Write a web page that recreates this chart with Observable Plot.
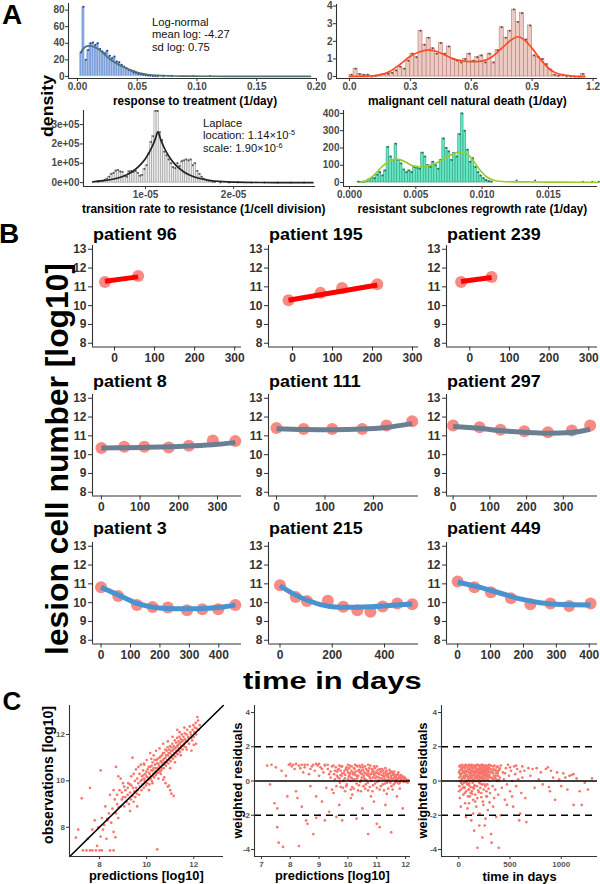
<!DOCTYPE html>
<html><head><meta charset="utf-8">
<script src="https://cdn.jsdelivr.net/npm/d3@7"></script>
<script src="https://cdn.jsdelivr.net/npm/@observablehq/plot@0.6"></script>
<style>
body{margin:0;background:#fff;}
#fig{position:relative;width:600px;height:884px;overflow:hidden;background:#fff;font-family:"Liberation Sans",Arial,Helvetica,sans-serif;}
.t{position:absolute;white-space:nowrap;line-height:1;}
.t sup{font-size:0.65em;vertical-align:0.55em;line-height:0;}
</style></head><body><div id="fig"></div>
<script>
// ---------------- DATA ----------------
// A1 response to treatment (histogram density, bin width 0.002)
const a1BinWidth = 0.002;
const a1BinStart = [0.002,0.004,0.006,0.008,0.010,0.012,0.014,0.016,0.018,0.020,0.022,0.024,0.026,0.028,0.030,0.032,0.034,0.036,0.038,0.040,0.042,0.044,0.046,0.048,0.050,0.052,0.054,0.056,0.058,0.060,0.062,0.064,0.066];
const a1Density  = [29,84,20,32,40,41,38,40,33,30,28,31,25,22,24,18,17,14,12,10,8,7,5,4,3,2.5,2,1.5,1,0.8,0.5,0.4,0.3];
const a1TailX = [0.072,0.079,0.097,0.111];
const a1TailY = [0.3,0.8,0.6,0.6];
const a1CurveX = [0.003,0.005,0.008,0.011,0.014,0.019,0.023,0.027,0.031,0.036,0.040,0.044,0.048,0.052,0.056,0.060,0.067,0.074,0.082,0.090,0.110,0.140,0.195];
const a1CurveY = [29.5,33.5,36.5,36.8,35.5,31.5,26,21,17,13,10.5,8,6,4,3,2,1.2,0.8,0.5,0.4,0.2,0.1,0.05];
const a1XTicks = [0,0.05,0.10,0.15,0.20], a1XLabels = ["0.00","0.05","0.10","0.15","0.20"];
const a1YTicks = [0,20,40,60,80], a1YLabels = ["0","20","40","60","80"];

// A2 malignant cell natural death (bin width 0.02)
const a2BinWidth = 0.02;
const a2BinStart = [0.00,0.02,0.04,0.06,0.08,0.10,0.12,0.14,0.16,0.18,0.20,0.22,0.24,0.26,0.28,0.30,0.32,0.34,0.36,0.38,0.40,0.42,0.44,0.46,0.48,0.50,0.52,0.54,0.56,0.58,0.60,0.62,0.64,0.66,0.68,0.70,0.72,0.74,0.76,0.78,0.80,0.82,0.84,0.86,0.88,0.90,0.92,0.94,0.96,0.98,1.00,1.02,1.04,1.06,1.08,1.10,1.12,1.14];
const a2Density  = [0.1,0.45,0.15,0.1,0.1,0.0,0.05,0.1,0.15,0.15,0.2,0.35,0.55,0.45,0.9,1.3,1.1,2.6,1.8,2.2,1.6,1.3,1.9,1.3,1.7,1.0,0.9,0.8,1.0,1.3,0.9,1.1,1.2,0.8,1.3,0.8,1.5,2.8,2.2,2.6,3.8,3.1,3.6,2.1,2.9,1.2,1.1,1.0,0.7,0.4,0.1,0.05,0.1,0.0,0.0,0.0,0.0,0.15];
const a2CurveX = [0.0,0.05,0.1,0.15,0.2,0.25,0.3,0.35,0.39,0.43,0.47,0.51,0.55,0.6,0.65,0.7,0.75,0.8,0.83,0.86,0.9,0.95,1.0,1.05,1.1,1.16];
const a2CurveY = [0.0,0.01,0.03,0.1,0.3,0.7,1.15,1.42,1.52,1.42,1.22,1.02,0.9,0.84,0.88,1.1,1.6,2.1,2.26,2.1,1.6,0.85,0.3,0.1,0.03,0.0];
const a2XTicks = [0,0.3,0.6,0.9,1.2], a2XLabels = ["0.0","0.3","0.6","0.9","1.2"];
const a2YTicks = [0,1,2,3,4], a2YLabels = ["0","1","2","3","4"];

// A3 transition rate to resistance (bin width 0.025e-5)
const a3BinWidth = 0.025e-5;
const a3BinStart = [0.450e-5,0.475e-5,0.500e-5,0.525e-5,0.550e-5,0.575e-5,0.600e-5,0.625e-5,0.650e-5,0.675e-5,0.700e-5,0.725e-5,0.750e-5,0.775e-5,0.800e-5,0.825e-5,0.850e-5,0.875e-5,0.900e-5,0.925e-5,0.950e-5,0.975e-5,1.000e-5,1.025e-5,1.050e-5,1.075e-5,1.100e-5,1.125e-5,1.150e-5,1.175e-5,1.200e-5,1.225e-5,1.250e-5,1.275e-5,1.300e-5,1.325e-5,1.350e-5,1.375e-5,1.400e-5,1.425e-5,1.450e-5,1.475e-5,1.500e-5,1.525e-5,1.550e-5,1.575e-5,1.600e-5,1.625e-5,1.650e-5,1.675e-5,1.700e-5,1.725e-5,1.750e-5,1.775e-5];
const a3Density  = [0.05e5,0.08e5,0.1e5,0.15e5,0.2e5,0.3e5,0.45e5,0.5e5,0.62e5,0.65e5,0.58e5,0.55e5,0.35e5,0.3e5,0.58e5,0.6e5,0.55e5,0.6e5,0.5e5,0.35e5,0.4e5,0.7e5,0.9e5,1.5e5,2.1e5,2.4e5,3.7e5,3.7e5,2.6e5,2.2e5,1.6e5,1.4e5,1.2e5,1.0e5,0.8e5,0.75e5,1.0e5,0.85e5,1.1e5,1.15e5,1.2e5,1.15e5,1.2e5,0.9e5,1.0e5,0.6e5,0.45e5,0.3e5,0.2e5,0.15e5,0.1e5,0.08e5,0.05e5,0.03e5];
const a3TailX = [1.85e-5,1.95e-5,2.05e-5,2.2e-5,2.35e-5,2.5e-5,2.65e-5,2.8e-5];
const a3TailY = [0.01e5,0.01e5,0.01e5,0.01e5,0.01e5,0.01e5,0.01e5,0.01e5];
const a3CurveX = [0.40e-5,0.44e-5,0.54e-5,0.64e-5,0.74e-5,0.84e-5,0.94e-5,1.00e-5,1.04e-5,1.08e-5,1.11e-5,1.14e-5,1.17e-5,1.20e-5,1.24e-5,1.30e-5,1.34e-5,1.44e-5,1.54e-5,1.64e-5,1.74e-5,1.84e-5,2.04e-5,2.30e-5,2.60e-5,2.90e-5];
const a3CurveY = [0.04e5,0.066e5,0.11e5,0.19e5,0.32e5,0.54e5,0.92e5,1.25e5,1.55e5,1.92e5,2.25e5,2.63e5,2.25e5,1.92e5,1.55e5,1.13e5,0.92e5,0.54e5,0.32e5,0.19e5,0.11e5,0.066e5,0.023e5,0.006e5,0.001e5,0];
const a3XTicks = [1e-5,2e-5], a3XLabels = ["1e-05","2e-05"];
const a3YTicks = [0,1e5,2e5,3e5], a3YLabels = ["0e+00","1e+05","2e+05","3e+05"];

// A4 resistant subclones regrowth rate (bin width 0.0002)
const a4BinWidth = 0.0002;
const a4BinStart = [0.0006,0.0008,0.0010,0.0012,0.0014,0.0016,0.0018,0.0020,0.0022,0.0024,0.0026,0.0028,0.0030,0.0032,0.0034,0.0036,0.0038,0.0040,0.0042,0.0044,0.0046,0.0048,0.0050,0.0052,0.0054,0.0056,0.0058,0.0060,0.0062,0.0064,0.0066,0.0068,0.0070,0.0072,0.0074,0.0076,0.0078,0.0080,0.0082,0.0084,0.0086,0.0088,0.0090,0.0092,0.0094,0.0096,0.0098,0.0100,0.0102,0.0104,0.0106];
const a4Density  = [5,3,5,10,18,28,25,45,60,40,70,205,150,130,225,130,110,75,60,70,60,90,85,80,173,150,100,90,120,100,80,130,255,200,180,130,170,150,280,400,300,190,120,140,90,60,40,25,15,8,5];
const a4TailX = [0.0126,0.0140,0.0176,0.0183,0.0188];
const a4TailY = [12,12,4,4,4];
const a4CurveX = [0.0008,0.0012,0.0016,0.002,0.0025,0.003,0.0036,0.0042,0.0048,0.0054,0.006,0.0066,0.0072,0.0078,0.0083,0.0088,0.0093,0.0098,0.0103,0.0108,0.0115,0.0125,0.014,0.016,0.0187];
const a4CurveY = [2,8,25,55,95,122,135,120,96,90,98,115,140,165,178,170,130,75,35,15,6,4,3,2,1];
const a4XTicks = [0,0.005,0.010,0.015], a4XLabels = ["0.000","0.005","0.010","0.015"];
const a4YTicks = [0,100,200,300,400], a4YLabels = ["0","100","200","300","400"];

// B patients: days and log10 cell numbers, observed and model fit
const bYTicks = [8,9,10,11,12,13];
const p96Days = [-24,59], p96Obs = [11.26,11.58], p96FitDays = [-24,59], p96Fit = [11.3,11.53];
const p195Days = [-10,70,124,212], p195Obs = [10.29,10.68,10.94,11.14], p195FitDays = [-10,212], p195Fit = [10.29,11.1];
const p239Days = [-22,55], p239Obs = [11.26,11.53], p239FitDays = [-22,55], p239Fit = [11.28,11.5];
const p8Days = [0,59,111,174,226,288,346], p8Obs = [10.35,10.42,10.42,10.38,10.47,10.75,10.72];
const p8FitDays = [0,60,120,180,240,300,346], p8Fit = [10.36,10.37,10.39,10.42,10.47,10.55,10.64];
const p111Days = [0,56,115,177,227,280], p111Obs = [11.42,11.37,11.37,11.37,11.55,11.78];
const p111FitDays = [0,56,115,177,227,280], p111Fit = [11.38,11.34,11.33,11.36,11.45,11.65];
const p297Days = [0,72,129,194,258,323,373], p297Obs = [11.55,11.46,11.33,11.24,11.19,11.28,11.55];
const p297FitDays = [0,72,129,194,258,323,373], p297Fit = [11.5,11.4,11.28,11.19,11.14,11.18,11.35];
const p3Days = [0,58,122,175,227,292,344,398,456], p3Obs = [10.82,10.35,9.88,9.77,9.74,9.6,9.65,9.65,9.88];
const p3FitDays = [0,60,120,180,240,300,360,420,456], p3Fit = [10.82,10.4,9.97,9.75,9.68,9.67,9.7,9.78,9.88];
const p215Days = [0,60,103,183,242,296,346,393,449,506], p215Obs = [10.93,10.3,10.09,10.1,9.78,9.6,9.52,9.8,9.95,9.92];
const p215FitDays = [0,60,110,190,260,340,420,506], p215Fit = [10.9,10.4,10.1,9.8,9.75,9.78,9.85,9.93];
const p449Days = [0,51,101,162,221,282,339,404], p449Obs = [11.13,10.82,10.55,10.24,9.91,9.96,9.82,9.96];
const p449FitDays = [0,60,130,190,250,320,404], p449Fit = [11.1,10.85,10.5,10.2,10.0,9.9,9.88];

// C1 predictions vs observations [log10]
const c1Points = [[7.0,7.55],[7.1,7.9],[7.25,9.25],[7.3,7.0],[7.45,7.0],[7.5,7.5],[7.6,7.0],[7.6,9.7],[7.7,7.0],[7.7,7.9],[7.8,8.3],[7.85,7.0],[7.9,7.2],[7.95,8.0],[8.0,7.0],[8.05,10.45],[8.05,7.6],[8.1,7.0],[8.1,8.4],[8.15,7.9],[8.2,8.1],[8.25,8.9],[8.3,7.5],[8.33,8.36],[8.35,8.3],[8.4,8.6],[8.45,7.0],[8.45,9.4],[8.5,8.2],[8.55,8.8],[8.6,7.0],[8.6,7.8],[8.65,9.2],[8.68,7.57],[8.7,10.6],[8.7,8.6],[8.75,9.0],[8.8,8.4],[8.8,10.2],[8.82,8.86],[8.85,9.6],[8.9,8.9],[8.9,10.1],[8.95,9.2],[9.0,9.3],[9.0,9.9],[9.05,8.9],[9.1,9.6],[9.15,9.1],[9.2,9.4],[9.22,9.9],[9.25,9.0],[9.3,9.5],[9.3,8.7],[9.33,9.2],[9.35,9.8],[9.4,9.35],[9.4,11.0],[9.42,9.7],[9.45,9.1],[9.48,9.55],[9.5,10.0],[9.52,9.3],[9.55,9.7],[9.58,9.45],[9.6,10.1],[9.6,8.9],[9.62,9.6],[9.65,9.9],[9.68,9.4],[9.7,10.3],[9.72,9.75],[9.75,10.0],[9.78,9.6],[9.8,10.2],[9.82,9.85],[9.85,10.45],[9.88,10.74],[9.88,9.7],[9.9,10.1],[9.9,10.7],[9.92,9.95],[9.95,10.3],[9.97,9.8],[10.0,10.2],[10.0,10.9],[10.02,9.9],[10.05,10.5],[10.08,10.05],[10.1,10.35],[10.1,9.6],[10.12,9.85],[10.15,10.6],[10.18,10.2],[10.2,10.45],[10.22,10.0],[10.25,10.8],[10.28,10.3],[10.3,10.55],[10.3,11.1],[10.32,10.15],[10.35,10.7],[10.38,10.4],[10.4,10.25],[10.42,10.9],[10.45,10.55],[10.45,7.05],[10.48,10.35],[10.5,10.75],[10.5,10.1],[10.52,10.5],[10.55,11.0],[10.57,10.6],[10.6,10.85],[10.6,10.3],[10.62,10.45],[10.65,11.1],[10.67,10.7],[10.7,10.9],[10.7,11.6],[10.7,10.05],[10.72,10.55],[10.75,11.2],[10.75,10.15],[10.77,10.8],[10.8,11.0],[10.8,9.9],[10.82,10.65],[10.85,11.3],[10.87,10.9],[10.9,11.1],[10.9,9.75],[10.92,10.75],[10.95,11.35],[10.95,9.8],[10.97,11.0],[11.0,11.2],[11.0,9.6],[11.02,10.85],[11.05,11.45],[11.05,9.45],[11.07,11.1],[11.1,11.3],[11.12,10.95],[11.15,11.5],[11.15,9.35],[11.17,11.2],[11.2,11.4],[11.22,11.05],[11.25,11.65],[11.27,11.3],[11.3,11.5],[11.32,11.15],[11.35,11.7],[11.37,11.4],[11.4,11.6],[11.4,12.1],[11.42,11.25],[11.45,11.8],[11.47,11.5],[11.5,11.7],[11.53,11.35],[11.56,11.9],[11.6,11.6],[11.6,12.3],[11.63,11.8],[11.66,11.45],[11.7,12.0],[11.73,11.7],[11.76,11.9],[11.8,11.6],[11.85,12.1],[11.9,11.85],[11.9,11.3],[11.95,12.2],[12.0,11.9],[12.05,12.3],[12.1,12.0],[12.1,11.6],[12.15,12.75],[12.2,12.2],[12.25,12.4],
[9.81,10.05],[9.87,10.25],[9.93,10.0],[9.99,10.4],[10.04,10.15],[10.09,10.6],[10.13,10.3],[10.17,10.1],[10.21,10.65],[10.26,10.45],[10.29,10.2],[10.34,10.9],[10.37,10.55],[10.41,10.35],[10.44,10.75],[10.47,10.95],[10.53,10.65],[10.56,10.4],[10.59,11.05],[10.63,10.8],[10.66,10.55],[10.69,11.2],[10.73,10.95],[10.76,10.7],[10.79,11.35],[10.83,11.1],[10.86,10.8],[10.89,11.45],[10.93,11.2],[10.96,10.9],[10.99,11.5],[11.03,11.3],[11.06,11.0],[11.09,11.6],[11.13,11.35],[11.16,11.1],[11.19,11.75],[11.23,11.45],[11.26,11.2],[11.29,11.85],[11.33,11.55],[11.36,11.3],[11.39,11.9],[11.43,11.65],[11.46,11.4],[11.49,12.0],[11.54,11.75],[11.58,11.5],[11.62,12.05],[11.67,11.7],[11.72,12.2],[11.78,11.85],[11.83,12.35],[11.88,12.0],[11.93,11.75],[11.98,12.4],[12.03,12.1],[12.08,12.5],[12.13,12.25],[12.18,12.6],[9.3,9.85],[9.45,10.3],[9.55,10.5],[9.65,10.6],[9.75,10.7],[9.2,9.7],[9.1,9.3],[8.95,9.5],[9.05,9.75],[8.75,9.4],[8.6,9.6],[9.35,10.2],[10.55,11.4],[10.4,11.3],[10.2,10.95],[10.15,11.2],[11.1,11.9],[10.9,11.7],[11.3,12.2],[11.0,10.55],[11.2,10.8],[11.45,11.1],[10.25,9.9],[11.7,11.35],[12.0,11.55]];
const c1Identity = [6.74,13.25];
const c1Ticks = [8,10,12], c1Labels = ["8","10","12"];

// C2 predictions vs weighted residuals
const c2Points = [[7.2,0.9],[7.35,0.95],[7.5,0.8],[7.3,-0.2],[7.45,-1.3],[7.55,-1.6],[7.6,-3.6],[7.75,-3.85],[7.55,-2.7],[8.3,-3.8],[7.7,0.6],[7.85,0.3],[7.9,-0.9],[7.95,0.95],[8.0,1.0],[8.05,0.85],[8.1,0.95],[8.15,0.7],[8.2,-0.6],[8.25,-1.0],[8.3,0.9],[8.35,0.75],[8.4,-1.5],[8.45,0.5],[8.5,0.8],[8.55,-2.3],[8.6,0.95],[8.65,0.4],[8.7,-0.3],[8.75,0.85],[8.8,-3.1],[8.85,0.6],[8.9,-0.9],[8.95,0.9],[9.0,0.3],[9.02,-2.0],[9.05,0.8],[9.1,-1.2],[9.15,0.5],[9.2,0.9],[9.25,-0.4],[9.3,0.7],[9.35,-1.8],[9.4,0.2],[9.45,0.85],[9.5,-0.7],[8.6,-2.5],[8.9,-2.15],[9.2,-2.3],[9.6,-2.1],[9.8,-2.3],[10.3,-2.2],[10.5,-1.6],[11.0,-2.5],[11.1,-2.7],[11.5,-3.0],[10.7,-3.1],[10.9,-1.2],[11.3,-1.4],[11.7,-0.9],[11.9,-1.6],[10.1,-1.0],[9.7,-1.4],
[9.52,0.4],[9.55,0.1],[9.58,0.8],[9.6,-0.3],[9.63,0.55],[9.66,0.2],[9.7,0.9],[9.72,-0.1],[9.75,0.6],[9.78,0.3],[9.8,0.85],[9.83,-0.4],[9.86,0.45],[9.9,0.15],[9.93,0.7],[9.96,-0.2],[10.0,0.5],[10.03,0.25],[10.06,0.9],[10.09,0.0],[10.12,0.6],[10.15,-0.35],[10.18,0.4],[10.21,0.75],[10.24,0.1],[10.27,0.55],[10.3,-0.15],[10.33,0.85],[10.36,0.3],[10.39,0.65],[10.42,-0.05],[10.45,0.45],[10.48,0.2],[10.51,0.8],[10.54,-0.3],[10.57,0.5],[10.6,0.1],[10.63,0.7],[10.66,0.35],[10.69,-0.1],[10.72,0.6],[10.75,0.25],[10.78,0.9],[10.81,0.0],[10.84,0.5],[10.87,-0.25],[10.9,0.4],[10.93,0.75],[10.96,0.15],[10.99,0.55],[11.02,-0.05],[11.05,0.45],[11.08,0.2],[11.11,0.7],[11.14,-0.3],[11.17,0.35],[11.2,0.1],[11.23,0.6],[11.26,0.25],[11.29,-0.15],[11.32,0.5],[11.35,0.05],[11.38,0.4],[11.41,0.2],[11.44,0.65],[11.47,-0.1],[11.5,0.3],[11.53,0.1],[11.56,0.45],[11.59,-0.2],[11.62,0.25],[11.65,0.05],[11.68,0.35],[11.71,-0.05],[11.74,0.15],[11.77,0.3],[11.8,-0.1],[11.83,0.1],[11.86,0.2],[11.9,0.0],[11.95,0.1],[12.0,-0.05],[12.05,0.05],
[9.65,0.65],[9.74,0.35],[9.85,0.05],[9.95,0.8],[10.05,0.35],[10.14,0.15],[10.22,0.45],[10.31,0.3],[10.4,0.9],[10.47,0.6],[10.55,0.3],[10.62,-0.2],[10.7,0.45],[10.77,0.15],[10.85,0.65],[10.92,0.3],[11.0,0.85],[11.07,0.05],[11.15,0.55],[11.22,0.3],[11.3,0.75],[11.37,0.25],[11.45,0.45],[11.52,0.55],[11.6,0.4],[11.67,0.2],[11.75,0.5],[11.85,0.35],[11.92,0.25],[10.1,-0.5],[10.35,-0.55],[10.6,-0.45],[10.85,-0.6],[11.1,-0.5],[11.4,-0.45],[9.9,-0.6],[10.0,0.95],[10.25,0.95],[10.5,0.95],[10.7,0.95],[9.2,0.95],[8.9,1.0],[8.4,0.95],[8.2,1.0],
[9.62,0.3],[9.68,0.7],[9.71,0.15],[9.77,0.85],[9.81,0.45],[9.84,0.0],[9.88,0.6],[9.91,0.35],[9.94,-0.3],[9.98,0.65],[10.01,0.1],[10.04,0.75],[10.07,0.45],[10.11,0.2],[10.13,0.85],[10.16,0.5],[10.19,0.05],[10.23,0.7],[10.26,0.35],[10.29,0.9],[10.32,0.15],[10.35,0.6],[10.38,-0.25],[10.41,0.5],[10.44,0.8],[10.46,0.05],[10.49,0.4],[10.53,0.65],[10.56,0.15],[10.59,0.85],[10.61,0.45],[10.64,0.05],[10.67,0.6],[10.71,0.3],[10.74,0.75],[10.76,-0.35],[10.79,0.4],[10.83,0.7],[10.86,0.2],[10.89,0.55],[10.91,0.85],[10.94,-0.15],[10.97,0.45],[11.01,0.25],[11.04,0.65],[11.06,0.0],[11.09,0.4],[11.13,0.55],[11.16,0.15],[11.19,0.7],[11.21,-0.2],[11.24,0.45],[11.28,0.1],[11.31,0.35],[11.34,0.6],[11.36,-0.1],[11.39,0.3],[11.43,0.05],[11.46,0.5],[11.49,0.2],[11.51,-0.3],[11.55,0.35],[11.58,0.15],[11.61,0.55],[11.64,-0.1],[11.66,0.3],[11.7,0.1],[11.73,0.4],[11.76,-0.15],[11.79,0.2],[11.82,0.3],[11.84,0.0],[11.88,0.15],[11.93,-0.05],[11.97,0.2],[12.02,0.1],[12.07,-0.1],[12.1,0.05],[9.1,0.7],[9.3,0.95],[9.4,0.55],[9.5,0.9],[8.7,0.7],[8.5,0.95],[8.8,0.95],[9.0,1.0],[9.35,0.4],[9.55,0.6],[9.75,-0.35],[10.2,-0.45],[10.45,-0.6],[10.7,-0.55],[11.0,-0.4],[11.25,-0.55],[11.55,-0.5],[11.8,-0.45],[10.15,-0.8],[10.8,-0.9],[11.35,-0.75],[9.45,-0.5]];
const c2XTicks = [7,8,9,10,11,12], c2XLabels = ["7","8","9","10","11","12"];

// C3 time vs weighted residuals
const c3Points = [[5,0.2],[5,-0.3],[8,0.6],[10,-1.0],[12,0.0],[15,0.4],[20,-0.5],[25,0.8],[30,0.1],[35,-0.2],[40,0.55],[45,-0.8],[50,0.3],[50,-0.1],[55,0.9],[58,-0.4],[60,0.2],[62,-1.3],[65,0.6],[70,0.0],[72,-0.6],[75,0.85],[80,0.35],[82,-0.2],[85,-1.6],[88,0.7],[90,0.1],[95,-0.5],[98,0.5],[100,0.95],[102,-0.15],[105,0.25],[108,-0.9],[110,0.65],[112,0.0],[115,-0.35],[118,0.8],[120,0.4],[122,-2.3],[125,0.15],[128,-0.6],[130,0.9],[132,0.3],[135,-0.1],[138,0.55],[140,-1.1],[142,0.75],[145,0.05],[148,-0.45],[150,0.6],[152,0.2],[155,-0.25],[158,0.85],[160,-0.8],[162,0.45],[165,0.0],[168,0.65],[170,-1.5],[172,0.3],[175,0.95],[178,-0.3],[180,0.5],[182,-3.9],[185,0.1],[188,0.7],[190,-0.55],[192,0.35],[195,0.85],[198,-0.1],[200,0.5],[203,-1.9],[205,0.2],[208,0.75],[210,-0.4],[213,0.4],[215,0.0],[218,0.9],[220,-0.7],[223,0.25],[225,0.6],[228,-0.2],[230,0.8],[233,0.1],[235,-1.2],[238,0.5],[240,0.3],[243,-0.5],[245,0.85],[248,0.0],[250,0.45],[253,-2.6],[255,0.65],[258,0.15],[260,-0.3],[263,0.9],[265,0.35],[268,-0.9],[270,0.6],[273,0.05],[275,0.75],[278,-0.2],[280,0.4],[283,-1.7],[285,0.8],[288,0.2],[290,-0.45],[293,0.55],[295,0.95],[298,0.0],[300,0.35],[305,-0.7],[310,0.7],[315,-3.1],[318,0.2],[320,-3.6],[325,0.5],[330,-0.3],[335,0.85],[340,0.1],[345,-1.0],[350,0.6],[355,-0.5],[360,0.3],[365,-2.1],[370,0.8],[375,0.0],[380,0.45],[385,-0.8],[390,-3.9],[395,0.65],[400,0.2],
[55,0.45],[65,-0.05],[78,0.55],[92,0.9],[105,0.7],[115,0.45],[125,0.6],[135,0.75],[145,0.35],[155,0.5],[165,0.8],[175,0.2],[185,0.55],[195,0.4],[205,0.7],[215,0.55],[225,0.2],[235,0.7],[245,0.35],[255,0.4],[265,0.7],[275,0.3],[285,0.5],[60,0.75],[85,0.05],[110,0.15],[140,0.05],[170,0.55],[200,0.05],[230,0.5],[260,0.6],[290,0.85],[40,-0.4],[30,0.7],[20,0.3],[12,0.9],[100,-0.5],[150,-0.3],[210,-0.15],[250,-0.2],
[2,0.5],[3,-0.6],[6,0.85],[18,0.65],[22,-0.1],[28,0.45],[33,0.95],[38,0.2],[43,0.8],[48,0.6],[52,-0.35],[57,0.15],[63,0.45],[68,0.95],[73,0.3],[77,-0.1],[83,0.6],[87,0.25],[93,0.75],[97,-0.25],[103,0.45],[107,0.9],[113,0.3],[117,0.55],[123,0.95],[127,0.35],[133,0.6],[137,-0.4],[143,0.5],[147,0.9],[153,0.4],[157,0.15],[163,0.9],[167,0.25],[173,0.7],[177,0.5],[183,0.3],[187,0.95],[193,0.6],[197,0.25],[203,0.9],[207,0.45],[212,0.15],[217,0.65],[222,0.95],[227,0.45],[232,0.3],[237,0.95],[242,0.6],[247,0.15],[252,0.8],[257,0.55],[262,0.25],[267,0.5],[272,0.9],[277,0.6],[282,0.1],[287,0.65],[292,0.3],[297,0.75],[303,0.5],[308,0.2],[313,0.9],[322,0.6],[328,0.15],[333,0.45],[338,0.7],[343,0.3],[348,0.9],[353,0.2],[358,0.65],[363,0.45],[368,0.1],[373,0.55],[378,0.85],[383,0.3],[388,0.6],[393,0.05],[398,0.75],[60,-0.7],[90,-0.9],[130,-0.75],[180,-1.0],[220,-0.95],[270,-0.6],[100,-1.3],[160,-1.2],[240,-1.4],[300,-1.25],[20,-1.5],[70,-2.1],[140,-1.9],[200,-2.6],[260,-2.2],[150,-2.9],[230,-3.3],[115,-0.7],[195,-0.65],[275,-0.9],[335,-1.5],
[410,0.9],[420,-0.4],[430,0.5],[440,0.1],[450,-1.1],[460,0.75],[470,-0.2],[480,0.95],[490,0.3],[500,-0.6],[510,0.6],[520,0.0],[530,-1.5],[540,0.85],[550,0.4],[560,-0.3],[570,0.7],[580,0.1],[590,-2.3],[600,0.55],[610,-0.7],[620,0.2],[640,0.6],[650,-1.0],[660,-2.4],[680,0.75],[700,0.3],[720,0.7],[740,-0.4],[760,0.75],[780,0.1],[800,0.5],[410,-2.0],[450,0.45],[500,0.8],[560,0.9],[620,0.85],[470,-1.4],[520,-0.9],[600,-1.9],
[820,-0.2],[850,0.7],[870,0.8],[890,-0.6],[900,0.6],[920,0.2],[940,-1.1],[960,0.5],[980,0.1],[1000,-0.3],[1020,0.45],[1040,0.2],[1060,-0.5],[1080,0.3],[1100,0.35],[1120,-1.4],[1150,0.15],[1180,-0.6],[1200,-1.4],[1230,-0.1],[1260,-0.5],[1300,0.15],[1120,0.4],[880,-0.35]];
const c3XTicks = [0,500,1000], c3XLabels = ["0","500","1000"];
const residTicks = [-4,-2,0,2,4], residLabels = ["-4","-2","0","2","4"];
const residBands = [-2,2];
const residZero = [0];

// ---------------- DRAWING ----------------
const fig = document.getElementById("fig");
const FONT = '"Liberation Sans", Arial, Helvetica, sans-serif';
const lab = (ticks, labels) => (d) => labels[ticks.indexOf(d)];

function addPlot(frame, m, o) {
  const [x0, y0, x1, y1] = frame;
  const [mt, mr, mb, ml] = m;
  const axc = o.axisColor || "#333";
  const svg = Plot.plot({
    width: x1 - x0 + ml + mr,
    height: y1 - y0 + mt + mb,
    marginTop: mt, marginRight: mr, marginBottom: mb, marginLeft: ml,
    style: {background: "transparent", fontFamily: FONT, fontSize: o.fs + "px", fontWeight: "bold", color: o.color, overflow: "visible"},
    x: {domain: o.xd, axis: null},
    y: {domain: o.yd, axis: null},
    marks: [
      ...o.marks,
      Plot.axisX(o.xt, {tickSize: o.ts, tickPadding: o.tp, tickFormat: o.xf, label: null, stroke: axc}),
      Plot.axisY(o.yt, {tickSize: o.ts, tickPadding: o.tp, tickFormat: o.yf, label: null, stroke: axc}),
      Plot.ruleX([o.xd[0]], {stroke: axc, strokeWidth: 1.1}),
      Plot.ruleY([o.yd[0]], {stroke: axc, strokeWidth: 1.1})
    ]
  });
  svg.style.maxWidth = "none";
  const holder = document.createElement("div");
  holder.style.position = "absolute";
  holder.style.left = (x0 - ml) + "px";
  holder.style.top = (y0 - mt) + "px";
  holder.appendChild(svg);
  fig.appendChild(holder);
}

function txt(s, x, y, size, opt = {}) {
  const el = document.createElement("div");
  el.className = "t";
  el.style.fontSize = size + "px";
  el.style.fontWeight = opt.weight || "bold";
  el.style.color = opt.color || "#000";
  if (opt.html) el.innerHTML = s; else el.textContent = s;
  fig.appendChild(el);
  const w = el.offsetWidth, h = el.offsetHeight;
  const sx = opt.width ? opt.width / w : (opt.sx || 1);
  if (opt.anchor === "start") {
    el.style.left = x + "px";
    el.style.top = (y - h / 2) + "px";
    el.style.transformOrigin = "0 50%";
  } else {
    el.style.left = (x - w / 2) + "px";
    el.style.top = (y - h / 2) + "px";
  }
  el.style.transform = `rotate(${opt.rotate || 0}deg) scaleX(${sx})`;
}

function histMarks(starts, vals, w, tailX, tailY, cx, cy, c) {
  const bins = starts.map((s, i) => ({x1: s, x2: s + w, v: vals[i]}));
  const tail = tailX.map((x, i) => ({x, v: tailY[i]}));
  const curve = cx.map((x, i) => ({x, v: cy[i]}));
  return [
    Plot.rect(bins, {x1: "x1", x2: "x2", y1: 0, y2: "v", fill: c.fill, stroke: c.stroke, strokeWidth: 0.6}),
    Plot.dot(bins, {x: d => (d.x1 + d.x2) / 2, y: "v", r: 1, fill: c.dot, stroke: "none"}),
    Plot.dot(tail, {x: "x", y: "v", r: 1, fill: c.dot, stroke: "none"}),
    Plot.line(curve, {x: "x", y: "v", stroke: c.curve, strokeWidth: 1.7, curve: "monotone-x"})
  ];
}

// ----- Panel A -----
const aM = [4, 10, 22, 44];
const aStyle = {fs: 10, color: "#4a4a4a", ts: 3, tp: 1, axisColor: "#333"};
addPlot([68, 3, 316, 78], aM, {...aStyle, xd: [-0.0075, 0.2], yd: [-2.5, 88],
  xt: a1XTicks, xf: lab(a1XTicks, a1XLabels), yt: a1YTicks, yf: lab(a1YTicks, a1YLabels),
  marks: histMarks(a1BinStart, a1Density, a1BinWidth, a1TailX, a1TailY, a1CurveX, a1CurveY,
    {fill: "#7c9fdb", stroke: "#b9ccee", dot: "#26379a", curve: "#4d7272"})});
addPlot([336, 4, 597, 78], aM, {...aStyle, xd: [-0.064, 1.222], yd: [-0.11, 4.09],
  xt: a2XTicks, xf: lab(a2XTicks, a2XLabels), yt: a2YTicks, yf: lab(a2YTicks, a2YLabels),
  marks: histMarks(a2BinStart, a2Density, a2BinWidth, [], [], a2CurveX, a2CurveY,
    {fill: "#eccbc5", stroke: "#b97c72", dot: "#7a4038", curve: "#ff4a22"})});
addPlot([83, 110, 315, 186], aM, {...aStyle, xd: [0.295e-5, 2.93e-5], yd: [-0.2e5, 3.73e5],
  xt: a3XTicks, xf: lab(a3XTicks, a3XLabels), yt: a3YTicks, yf: lab(a3YTicks, a3YLabels),
  marks: histMarks(a3BinStart, a3Density, a3BinWidth, a3TailX, a3TailY, a3CurveX, a3CurveY,
    {fill: "#ececec", stroke: "#9d9d9d", dot: "#555", curve: "#222"})});
addPlot([343, 110, 597, 186], aM, {...aStyle, xd: [-0.00045, 0.0187], yd: [-23, 417],
  xt: a4XTicks, xf: lab(a4XTicks, a4XLabels), yt: a4YTicks, yf: lab(a4YTicks, a4YLabels),
  marks: histMarks(a4BinStart, a4Density, a4BinWidth, a4TailX, a4TailY, a4CurveX, a4CurveY,
    {fill: "#62e8c2", stroke: "#3a9f85", dot: "#21705c", curve: "#9acb2e"})});

txt("A", 12, 15, 28);
txt("density", 48, 106, 16, {rotate: -90, width: 62});
txt("response to treatment (1/day)", 195, 100.5, 12, {width: 164});
txt("malignant cell natural death (1/day)", 467, 100.5, 12, {width: 199});
txt("transition rate to resistance (1/cell division)", 203.5, 208.5, 12, {width: 243});
txt("resistant subclones regrowth rate (1/day)", 472, 208.5, 12, {width: 230});
txt("Log-normal", 152, 22, 11.2, {weight: "normal", anchor: "start", color: "#111"});
txt("mean log: -4.27", 152, 34.5, 11.2, {weight: "normal", anchor: "start", color: "#111"});
txt("sd log: 0.75", 152, 47.5, 11.2, {weight: "normal", anchor: "start", color: "#111"});
txt("Laplace", 203, 123, 11.2, {weight: "normal", anchor: "start", color: "#111"});
txt("location: 1.14×10<sup>-5</sup>", 203, 135.5, 11.2, {weight: "normal", anchor: "start", html: true, color: "#111"});
txt("scale: 1.90×10<sup>-6</sup>", 203, 148, 11.2, {weight: "normal", anchor: "start", html: true, color: "#111"});

// ----- Panel B -----
const patients = [
  {name: "patient 96",  days: p96Days,  obs: p96Obs,  fd: p96FitDays,  fit: p96Fit,  color: "#ff0000", xd: [-55, 317], xt: [0,100,200,300]},
  {name: "patient 195", days: p195Days, obs: p195Obs, fd: p195FitDays, fit: p195Fit, color: "#ff0000", xd: [-60, 315], xt: [0,100,200,300]},
  {name: "patient 239", days: p239Days, obs: p239Obs, fd: p239FitDays, fit: p239Fit, color: "#ff0000", xd: [-58.7, 322], xt: [0,100,200,300]},
  {name: "patient 8",   days: p8Days,   obs: p8Obs,   fd: p8FitDays,   fit: p8Fit,   color: "#6b7f93", xd: [-23, 362], xt: [0,100,200,300]},
  {name: "patient 111", days: p111Days, obs: p111Obs, fd: p111FitDays, fit: p111Fit, color: "#6b7f93", xd: [-16.5, 293], xt: [0,100,200]},
  {name: "patient 297", days: p297Days, obs: p297Obs, fd: p297FitDays, fit: p297Fit, color: "#6b7f93", xd: [-18, 393], xt: [0,100,200,300]},
  {name: "patient 3",   days: p3Days,   obs: p3Obs,   fd: p3FitDays,   fit: p3Fit,   color: "#4a92d0", xd: [-29, 477], xt: [0,100,200,300,400]},
  {name: "patient 215", days: p215Days, obs: p215Obs, fd: p215FitDays, fit: p215Fit, color: "#4a92d0", xd: [-44, 530], xt: [0,200,400]},
  {name: "patient 449", days: p449Days, obs: p449Obs, fd: p449FitDays, fit: p449Fit, color: "#4a92d0", xd: [-34, 425], xt: [0,100,200,300,400]}
];
const colX0 = [92, 268, 446], colX1 = [241, 418, 597];
const rowT13 = [249, 398, 545.5], titleY = [235, 382, 529];
patients.forEach((p, i) => {
  const r = Math.floor(i / 3), c = i % 3;
  const y0 = rowT13[r] - 0.2 * 18.8, y1 = rowT13[r] + 5.2 * 18.8;
  const pts = p.days.map((d, k) => ({d, v: p.obs[k]}));
  const fit = p.fd.map((d, k) => ({d, v: p.fit[k]}));
  addPlot([colX0[c], y0, colX1[c], y1], [4, 12, 24, 30], {
    fs: 12, color: "#333", ts: 4, tp: 2, axisColor: "#333",
    xd: p.xd, yd: [7.8, 13.2], xt: p.xt, xf: d => String(d), yt: bYTicks, yf: d => String(d),
    marks: [
      Plot.dot(pts, {x: "d", y: "v", r: 6, fill: "#f8766d", fillOpacity: 0.85, stroke: "none"}),
      Plot.line(fit, {x: "d", y: "v", stroke: p.color, strokeWidth: 5, curve: "monotone-x", strokeLinecap: "butt"})
    ]
  });
  txt(p.name, colX0[c] + 1, titleY[r], 16, {anchor: "start", sx: 1.12});
});
txt("B", 9, 234, 28);
txt("lesion cell number [log10]", 57, 459, 32, {rotate: -90, width: 392});
txt("time in days", 332.5, 681, 24, {width: 179});

// ----- Panel C -----
const cStyle = {fs: 8, color: "#555", ts: 3, tp: 1.5, axisColor: "#333"};
const cM = [4, 8, 16, 24];
const ptR = 1.35;
addPlot([69, 705, 223, 856], cM, {...cStyle, xd: [6.73, 13.26], yd: [6.74, 13.25],
  xt: c1Ticks, xf: lab(c1Ticks, c1Labels), yt: c1Ticks, yf: lab(c1Ticks, c1Labels),
  marks: [
    Plot.dot(c1Points, {x: d => d[0], y: d => d[1], r: ptR, fill: "#f8766d", stroke: "none"}),
    Plot.line(c1Identity, {x: d => d, y: d => d, stroke: "#000", strokeWidth: 1.6})
  ]});
addPlot([254, 705, 410, 856], cM, {...cStyle, xd: [6.76, 12.17], yd: [-4.41, 4.41],
  xt: c2XTicks, xf: lab(c2XTicks, c2XLabels), yt: residTicks, yf: lab(residTicks, residLabels),
  marks: [
    Plot.dot(c2Points, {x: d => d[0], y: d => d[1], r: ptR, fill: "#f8766d", stroke: "none"}),
    Plot.ruleY(residBands, {stroke: "#000", strokeWidth: 1.5, strokeDasharray: "7,5"}),
    Plot.ruleY(residZero, {stroke: "#000", strokeWidth: 1.5})
  ]});
addPlot([441, 705, 597, 856], cM, {...cStyle, xd: [-169, 1354], yd: [-4.41, 4.41],
  xt: c3XTicks, xf: lab(c3XTicks, c3XLabels), yt: residTicks, yf: lab(residTicks, residLabels),
  marks: [
    Plot.dot(c3Points, {x: d => d[0], y: d => d[1], r: ptR, fill: "#f8766d", stroke: "none"}),
    Plot.ruleY(residBands, {stroke: "#000", strokeWidth: 1.5, strokeDasharray: "7,5"}),
    Plot.ruleY(residZero, {stroke: "#000", strokeWidth: 1.5})
  ]});
txt("C", 12, 701, 26);
txt("observations [log10]", 48, 775, 14, {rotate: -90, width: 138});
txt("predictions [log10]", 146, 876, 13.5, {width: 115});
txt("weighted residuals", 237, 780, 13, {rotate: -90, width: 116});
txt("predictions [log10]", 332.5, 876, 13.5, {width: 115});
txt("weighted residuals", 422, 780, 13, {rotate: -90, width: 116});
txt("time in days", 519, 876, 13, {width: 74});
</script></body></html>
